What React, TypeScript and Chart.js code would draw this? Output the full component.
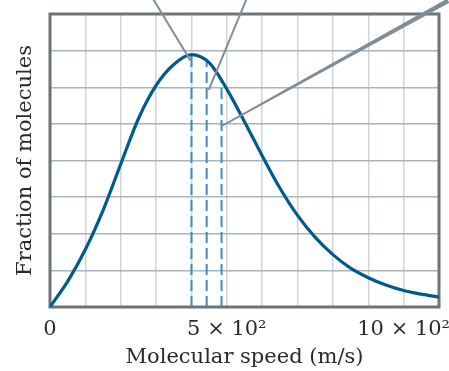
import React, { useEffect, useRef } from "react";
import { Chart, registerables } from "chart.js";

Chart.register(...registerables);

// Molecular speed (m/s) and fraction of molecules (grid units, 0..8)
const speeds = [0, 50, 100, 150, 200, 250, 300, 350, 400, 450, 500, 550, 600, 650, 700, 750, 800, 850, 900, 950, 1000, 1050, 1100];
const fractions = [0, 0.7, 1.57, 2.64, 3.9, 5.14, 6.05, 6.62, 6.89, 6.67, 5.95, 5.06, 4.13, 3.25, 2.5, 1.9, 1.43, 1.06, 0.8, 0.6, 0.45, 0.35, 0.27];

// characteristic speeds (most probable, average, rms) and heights of their dashed markers
const markerSpeeds = [400, 443, 485];
const markerHeights = [6.89, 6.72, 6.2];

// leader lines: from (outer) to (inner), in data units
const leaderFromX = [293, 555, 1126];
const leaderFromY = [8.39, 8.39, 8.36];
const leaderToX = [397, 449, 487];
const leaderToY = [6.73, 5.93, 4.95];

const xTickLabels: Record<number, string> = { 0: "0", 500: "5 \u00d7 10\u00b2", 1000: "10 \u00d7 10\u00b2" };

const FONT = "'DejaVu Serif', serif";

const decorPlugin = {
  id: "decor",
  beforeDatasetsDraw(chart: any) {
    const { ctx, chartArea, scales } = chart;
    const xs = scales.x, ys = scales.y;
    ctx.save();
    // dashed markers
    ctx.strokeStyle = "#3a8cc6";
    ctx.lineWidth = 2;
    ctx.setLineDash([11, 5]);
    markerSpeeds.forEach((s, i) => {
      const px = xs.getPixelForValue(s);
      ctx.beginPath();
      ctx.moveTo(px, ys.getPixelForValue(0));
      ctx.lineTo(px, ys.getPixelForValue(markerHeights[i]));
      ctx.stroke();
    });
    ctx.setLineDash([]);
    // frame
    ctx.strokeStyle = "#6d7478";
    ctx.lineWidth = 3;
    ctx.strokeRect(chartArea.left, chartArea.top, chartArea.right - chartArea.left, chartArea.bottom - chartArea.top);
    ctx.restore();
  },
  afterDatasetsDraw(chart: any) {
    const { ctx, scales } = chart;
    const xs = scales.x, ys = scales.y;
    ctx.save();
    ctx.strokeStyle = "#808d96";
    ctx.fillStyle = "#808d96";
    ctx.lineCap = "butt";
    leaderFromX.forEach((fx, i) => {
      const x1 = xs.getPixelForValue(fx), y1 = ys.getPixelForValue(leaderFromY[i]);
      const x2 = xs.getPixelForValue(leaderToX[i]), y2 = ys.getPixelForValue(leaderToY[i]);
      if (i < 2) {
        ctx.lineWidth = 2;
        ctx.beginPath();
        ctx.moveTo(x1, y1);
        ctx.lineTo(x2, y2);
        ctx.stroke();
      } else {
        const dx = x2 - x1, dy = y2 - y1;
        const len = Math.hypot(dx, dy);
        const nx = -dy / len, ny = dx / len;
        const w1 = 2.4, w2 = 0.8;
        ctx.beginPath();
        ctx.moveTo(x1 + nx * w1, y1 + ny * w1);
        ctx.lineTo(x2 + nx * w2, y2 + ny * w2);
        ctx.lineTo(x2 - nx * w2, y2 - ny * w2);
        ctx.lineTo(x1 - nx * w1, y1 - ny * w1);
        ctx.closePath();
        ctx.fill();
      }
    });
    ctx.restore();
  },
};

export default function App() {
  const ref = useRef<HTMLCanvasElement>(null);
  useEffect(() => {
    const chart = new Chart(ref.current as HTMLCanvasElement, {
      type: "line",
      data: {
        datasets: [
          {
            data: speeds.map((s, i) => ({ x: s, y: fractions[i] })),
            borderColor: "#005a8c",
            borderWidth: 3.2,
            pointRadius: 0,
            cubicInterpolationMode: "monotone",
            fill: false,
          },
        ],
      },
      options: {
        responsive: false,
        animation: false,
        layout: { padding: { top: 14, right: 9, left: 0, bottom: 0 } },
        plugins: { legend: { display: false }, tooltip: { enabled: false } },
        scales: {
          x: {
            type: "linear",
            min: 0,
            max: 1100,
            afterFit: (s: any) => { s.height = 64; },
            border: { display: false },
            grid: { color: "#cfd5da", lineWidth: 1.5, drawTicks: false },
            ticks: {
              stepSize: 100,
              autoSkip: false,
              maxRotation: 0,
              minRotation: 0,
              padding: 10,
              color: "#2a2a2a",
              font: { family: FONT, size: 21 },
              callback: (v: any) => xTickLabels[Math.round(Number(v))] ?? "",
            },
            title: {
              display: true,
              text: "Molecular speed (m/s)",
              color: "#2a2a2a",
              font: { family: FONT, size: 21 },
              padding: { top: 0, bottom: 1 },
            },
          },
          y: {
            type: "linear",
            min: 0,
            max: 8,
            afterFit: (s: any) => { s.width = 50; },
            border: { display: false },
            grid: { color: "#aab4bc", lineWidth: 1.5, drawTicks: false },
            ticks: { display: false, stepSize: 1 },
            title: {
              display: true,
              text: "Fraction of molecules",
              color: "#2a2a2a",
              font: { family: FONT, size: 21 },
              padding: { top: 13, bottom: 0 },
            },
          },
        },
      },
      plugins: [decorPlugin],
    } as any);
    return () => chart.destroy();
  }, []);
  return (
    <div style={{ position: "absolute", left: 0, top: 0, width: 449, height: 371 }}>
      <canvas ref={ref} width={449} height={371} />
    </div>
  );
}
